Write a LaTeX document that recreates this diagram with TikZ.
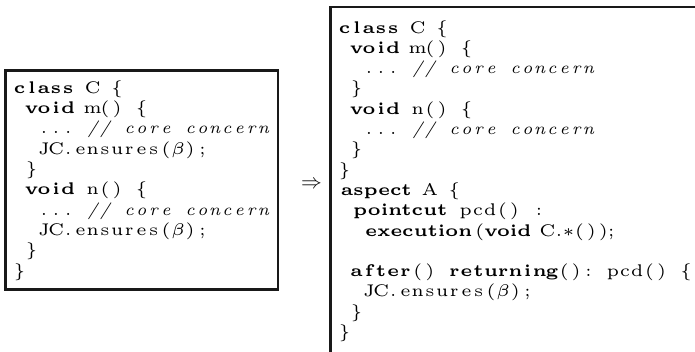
\documentclass[tikz,border=0pt]{standalone}
\usepackage{fontspec}
\usepackage{graphicx}
\usepackage{amsmath}

% code is set in the 5pt optical size of Latin Modern and magnified
\newfontfamily\codefont[BoldFont=lmroman5-bold.otf, ItalicFont=lmroman7-italic.otf, Ligatures=TeX]{lmroman5-regular.otf}
\newcommand\codescale{3.38}

% fixed-width columns (in the unmagnified 5pt size)
\newdimen\colw
\colw=3.61pt
\newcommand\fxsp{}
\ExplSyntaxOn
\tl_new:N \l__fx_line_tl
\cs_new_protected:Npn \__fx_box:n #1 { \hbox_to_wd:nn { \colw } { \hss #1 \hss } }
\NewDocumentCommand \fx { m }
  {
    \tl_set:Nn \l__fx_line_tl { #1 }
    \tl_replace_all:Nnn \l__fx_line_tl { ~ } { \fxsp }
    \tl_map_function:NN \l__fx_line_tl \__fx_box:n
  }
\ExplSyntaxOff
% keyword in columns, keyword at natural width, comment, blank column, indentation
\newcommand\kw[1]{{\bfseries\fx{#1}}}
\newcommand\nkw[1]{{\bfseries #1}}
\newcommand\cm[1]{{\itshape\fx{#1}}}
\newcommand\blank{\hspace*{\colw}}
\newcommand\ind[1]{\hspace*{#1\colw}}
\newcommand\code[1]{\scalebox{\codescale}{\codefont\fontsize{5}{6}\selectfont #1}}

\tikzset{
  codeline/.style={anchor=base west, inner sep=0pt, outer sep=0pt},
  frame/.style={line width=2.4pt, draw=black!90},
}

\begin{document}
\begin{tikzpicture}[x=1pt, y=-1pt]
\useasboundingbox (0,0) rectangle (695,351);

% before: class with the contract calls inlined
\draw[frame] (5.5,70.5) rectangle (278,289.5);
\def\xL{13.4}
\def\yL{93}
\def\dyL{20.35}
\node[codeline] (l0) at (\xL,\yL+0*\dyL) {\code{\kw{class}\blank\fx{C \{}}};
\node[codeline] (l1) at (\xL,\yL+1*\dyL) {\code{\ind{1}\kw{void}\blank\fx{m() \{}}};
\node[codeline] (l2) at (\xL,\yL+2*\dyL) {\code{\ind{2}\fx{...}\blank\cm{// core concern}}};
\node[codeline] (l3) at (\xL,\yL+3*\dyL) {\code{\ind{2}\fx{JC.ensures({$\beta$});}}};
\node[codeline] (l4) at (\xL,\yL+4*\dyL) {\code{\ind{1}\fx{\}}}};
\node[codeline] (l5) at (\xL,\yL+5*\dyL) {\code{\ind{1}\kw{void}\blank\fx{n() \{}}};
\node[codeline] (l6) at (\xL,\yL+6*\dyL) {\code{\ind{2}\fx{...}\blank\cm{// core concern}}};
\node[codeline] (l7) at (\xL,\yL+7*\dyL) {\code{\ind{2}\fx{JC.ensures({$\beta$});}}};
\node[codeline] (l8) at (\xL,\yL+8*\dyL) {\code{\ind{1}\fx{\}}}};
\node[codeline] (l9) at (\xL,\yL+9*\dyL) {\code{\fx{\}}}};

% transformation arrow
\node[inner sep=0pt, font=\fontsize{20}{20}\selectfont] (arrow) at (311.5,185) {$\Rightarrow$};

% after: class plus aspect
\draw[frame] (330.5,7) -- (330.5,360);
\draw[frame] (329.3,7) -- (700,7);
\def\xR{338.4}
\def\yR{33}
\def\dyR{20.3}
\node[codeline] (r0) at (\xR,\yR+0*\dyR) {\code{\kw{class}\blank\fx{C \{}}};
\node[codeline] (r1) at (\xR,\yR+1*\dyR) {\code{\ind{1}\kw{void}\blank\fx{m() \{}}};
\node[codeline] (r2) at (\xR,\yR+2*\dyR) {\code{\ind{2}\fx{...}\blank\cm{// core concern}}};
\node[codeline] (r3) at (\xR,\yR+3*\dyR) {\code{\ind{1}\fx{\}}}};
\node[codeline] (r4) at (\xR,\yR+4*\dyR) {\code{\ind{1}\kw{void}\blank\fx{n() \{}}};
\node[codeline] (r5) at (\xR,\yR+5*\dyR) {\code{\ind{2}\fx{...}\blank\cm{// core concern}}};
\node[codeline] (r6) at (\xR,\yR+6*\dyR) {\code{\ind{1}\fx{\}}}};
\node[codeline] (r7) at (\xR,\yR+7*\dyR) {\code{\fx{\}}}};
\node[codeline] (r8) at (\xR+2.5,\yR+8*\dyR) {\code{\nkw{aspect}\blank\fx{A \{}}};
\node[codeline] (r9) at (\xR+2.5,\yR+9*\dyR) {\code{\ind{1}\nkw{pointcut}\blank\fx{pcd()}\blank\fx{:}}};
\node[codeline] (r10) at (\xR+2.5,\yR+10*\dyR) {\code{\ind{2}\nkw{execution}\,(\nkw{void} C.$\ast$(\,)\,);}};
\node[codeline] (r12) at (\xR,\yR+12*\dyR) {\code{\ind{1}\kw{after}\fx{()}\blank\kw{returning}\fx{(): pcd() \{}}};
\node[codeline] (r13) at (\xR,\yR+13*\dyR) {\code{\ind{2}\fx{JC.ensures({$\beta$});}}};
\node[codeline] (r14) at (\xR,\yR+14*\dyR) {\code{\ind{1}\fx{\}}}};
\node[codeline] (r15) at (\xR,\yR+15*\dyR) {\code{\fx{\}}}};
\end{tikzpicture}
\end{document}
